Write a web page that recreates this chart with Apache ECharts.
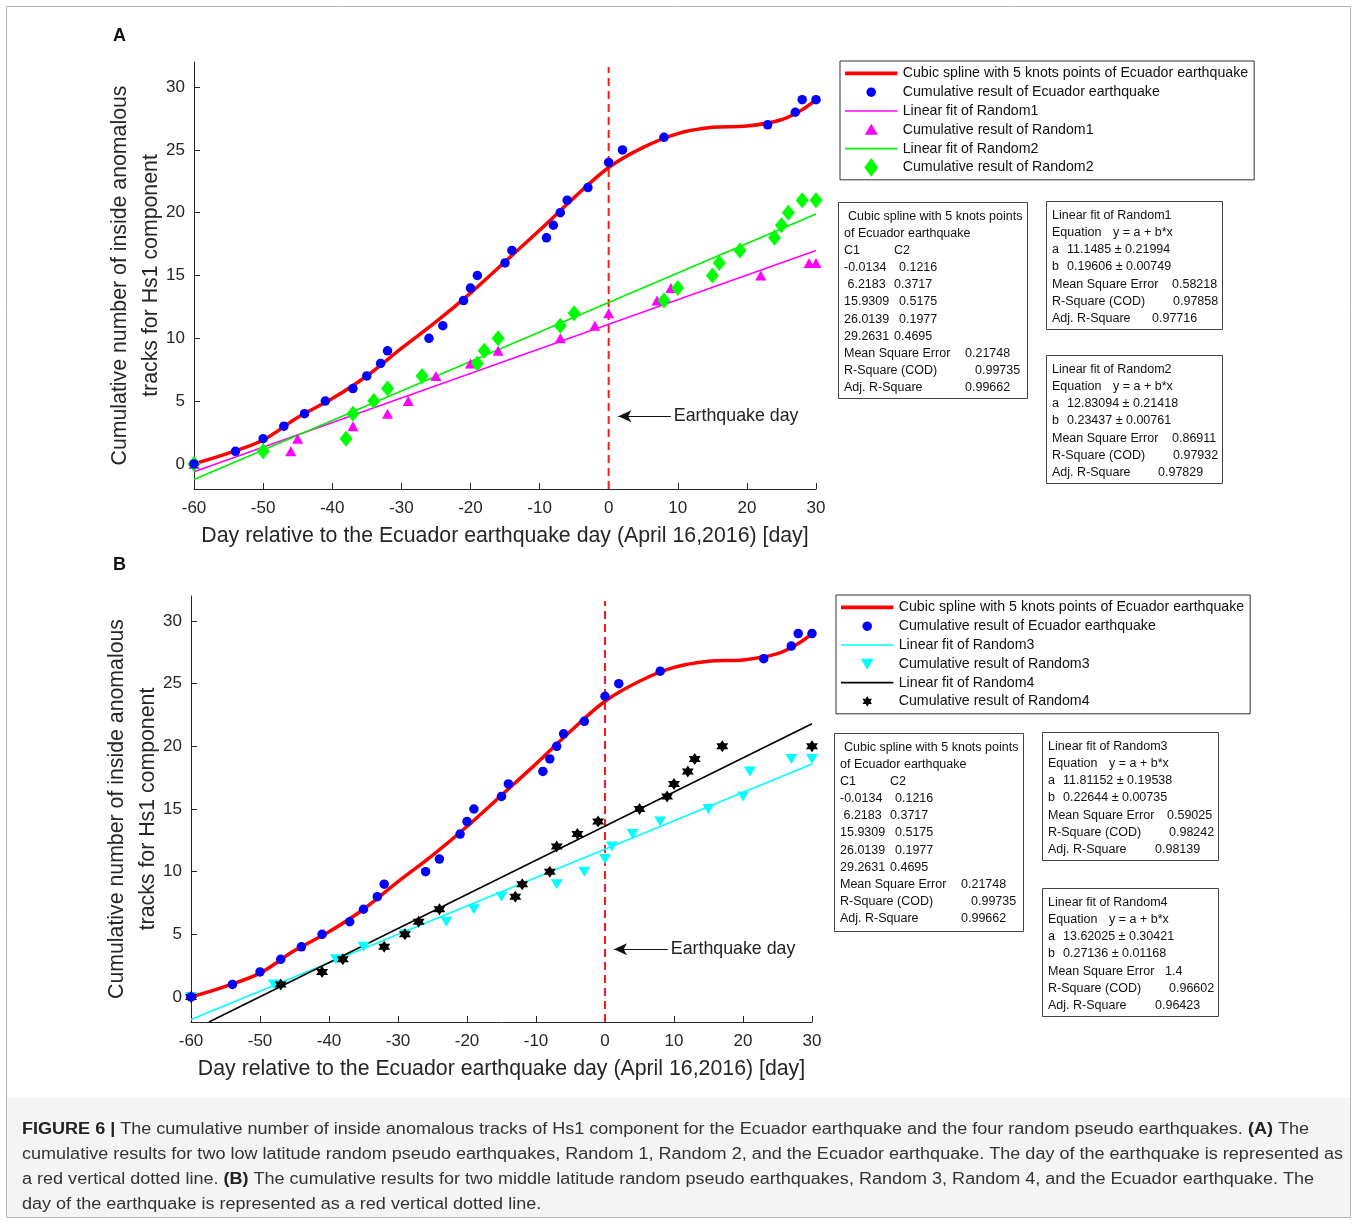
<!DOCTYPE html>
<html>
<head>
<meta charset="utf-8">
<script src="https://cdn.jsdelivr.net/npm/echarts@6/dist/echarts.min.js"></script>
<style>
  html, body { margin: 0; padding: 0; background: #fff; }
  #main { width: 1357px; height: 1224px; }
</style>
</head>
<body>
<div id="main"></div>
<script>
// Ecuador earthquake cumulative result (same in both panels)
const ecuadorDays = [-60, -54, -50, -47, -44, -41, -37, -35, -33, -32, -26, -24, -21, -20, -19, -15, -14, -9, -8, -7, -6, -3, 0, 2, 8, 23, 27, 28, 30];
const ecuadorCounts = [0, 1, 2, 3, 4, 5, 6, 7, 8, 9, 10, 11, 13, 14, 15, 16, 17, 18, 19, 20, 21, 22, 24, 25, 26, 27, 28, 29, 29];

// cubic spline curve
const splineDays = [-60, -55, -50, -45, -40, -35, -30, -25, -20, -15, -10, -5, 0, 5, 10, 15, 20, 25, 28, 30];
const splineValues = [0, 0.85, 1.9, 3.7, 5.2, 7.0, 9.2, 11.3, 13.6, 16.1, 18.6, 21.2, 23.6, 25.2, 26.3, 26.8, 26.9, 27.4, 28.2, 29.0];

// random pseudo earthquakes
const random1Days = [-60, -46, -45, -37, -32, -29, -25, -20, -16, -7, -2, 0, 7, 9, 22, 29, 30];
const random1Counts = [0, 1, 2, 3, 4, 5, 7, 8, 9, 10, 11, 12, 13, 14, 15, 16, 16];
const random2Days = [-60, -50, -38, -37, -34, -32, -27, -19, -18, -16, -7, -5, 8, 10, 15, 16, 19, 24, 25, 26, 28, 30];
const random2Counts = [0, 1, 2, 4, 5, 6, 7, 8, 9, 10, 11, 12, 13, 14, 15, 16, 17, 18, 19, 20, 21, 21];
const random3Days = [-60, -48, -39, -35, -29, -23, -19, -15, -7, -3, 0, 1, 4, 8, 15, 20, 21, 27, 30];
const random3Counts = [0, 1, 3, 4, 5, 6, 7, 8, 9, 10, 11, 12, 13, 14, 15, 16, 18, 19, 19];
const random4Days = [-60, -47, -41, -38, -32, -29, -27, -24, -13, -12, -8, -7, -4, -1, 5, 9, 10, 12, 13, 17, 30];
const random4Counts = [0, 1, 2, 3, 4, 5, 6, 7, 8, 9, 10, 12, 13, 14, 15, 16, 17, 18, 19, 20, 20];

// linear fit end points
const fit1Line = [[-60, -0.62], [30, 17.0]];
const fit2Line = [[-60, -1.25], [30, 19.9]];
const fit3Line = [[-60, -1.8], [30, 18.6]];
const fit4Line = [[-57.4, -2], [30, 21.8]];

const quakeLine = [[0, -2], [0, 31.6]];
const yTicks = [0, 5, 10, 15, 20, 25, 30];

const splineStats = [
  ['-0.0134', '0.1216'], [' 6.2183', '0.3717'], ['15.9309', '0.5175'],
  ['26.0139', '0.1977'], ['29.2631', '0.4695']
];
const splineFitStats = ['0.21748', '0.99735', '0.99662'];
const linearStats = {
  Random1: ['11.1485 ± 0.21994', '0.19606 ± 0.00749', '0.58218', '0.97858', '0.97716'],
  Random2: ['12.83094 ± 0.21418', '0.23437 ± 0.00761', '0.86911', '0.97932', '0.97829'],
  Random3: ['11.81152 ± 0.19538', '0.22644 ± 0.00735', '0.59025', '0.98242', '0.98139'],
  Random4: ['13.62025 ± 0.30421', '0.27136 ± 0.01168', '1.4', '0.96602', '0.96423']
};

const FONT = '"Liberation Sans", Arial, Helvetica, sans-serif';
const AXIS = '#262626';
const SPLINE_NAME = 'Cubic spline with 5 knots points of Ecuador earthquake';
const ECU_NAME = 'Cumulative result of Ecuador earthquake';

function zip(xs, ys) {
  return xs.map((x, i) => [x, ys[i]]);
}

// six pointed star, centred on (cx, cy)
function hexagram(cx, cy, R) {
  const pts = [];
  for (let i = 0; i < 12; i++) {
    const r = i % 2 === 0 ? R : R / Math.sqrt(3);
    const a = -Math.PI / 2 + i * Math.PI / 6;
    pts.push((cx + r * Math.cos(a)).toFixed(2) + ',' + (cy + r * Math.sin(a)).toFixed(2));
  }
  return 'M' + pts.join('L') + 'Z';
}

// legend icons all share a 53x19 / 19x19 frame so marker sizes differ like in the figure
const ICON_BOX = 'path://M0,0M19,19';
const legendIcons = {
  spline: 'path://M0,0M53,19M0,7.6H53V11.4H0Z',
  fit: 'path://M0,0M53,19M0,8.7H53V10.3H0Z',
  circle: ICON_BOX + 'M4.7,9.5A4.8,4.8,0,1,1,14.3,9.5A4.8,4.8,0,1,1,4.7,9.5Z',
  up: ICON_BOX + 'M9.5,3.5L16,14.5L3,14.5Z',
  down: ICON_BOX + 'M3,4.5L16,4.5L9.5,15.5Z',
  diamond: ICON_BOX + 'M9.5,0L16.5,9.5L9.5,19L2.5,9.5Z',
  star: ICON_BOX + hexagram(9.5, 9.5, 5.5)
};

function makeXAxis(gridIndex) {
  return {
    type: 'value', gridIndex, min: -60, max: 30, interval: 10,
    name: 'Day relative to the Ecuador earthquake day (April 16,2016) [day]',
    nameLocation: 'middle', nameGap: 36, nameMoveOverlap: false,
    nameTextStyle: { fontFamily: FONT, fontSize: 21.3, color: AXIS, lineHeight: 22 },
    axisLine: { onZero: false, lineStyle: { color: AXIS, width: 1 } },
    axisTick: { inside: true, length: 6, lineStyle: { color: AXIS } },
    axisLabel: { fontFamily: FONT, fontSize: 17, color: AXIS, margin: 11 },
    splitLine: { show: false }
  };
}

function makeYAxis(gridIndex) {
  return {
    type: 'value', gridIndex, min: -2, max: 32,
    name: 'Cumulative number of inside anomalous\ntracks for Hs1 component',
    nameLocation: 'middle', nameGap: 27, nameMoveOverlap: false,
    nameTextStyle: { fontFamily: FONT, fontSize: 21.3, color: AXIS, lineHeight: 31 },
    axisLine: { onZero: false, lineStyle: { color: AXIS, width: 1 } },
    axisTick: { inside: true, length: 6, customValues: yTicks, lineStyle: { color: AXIS } },
    axisLabel: { fontFamily: FONT, fontSize: 17, color: AXIS, margin: 9, customValues: yTicks },
    splitLine: { show: false }
  };
}

function quakeSeries(i, arrowFrom, arrowTo) {
  return {
    type: 'line', xAxisIndex: i, yAxisIndex: i, data: quakeLine, symbol: 'none', silent: true, z: 1,
    lineStyle: { color: '#ff1a1a', width: 2, type: [8, 5] },
    markLine: {
      silent: true, animation: false, symbolSize: [9, 13],
      lineStyle: { color: '#111', width: 1, type: 'solid' },
      label: { show: true, position: 'end', distance: 3, formatter: 'Earthquake day', fontFamily: FONT, fontSize: 17.8, color: '#222' },
      data: [[{ coord: arrowFrom, symbol: 'arrow' }, { coord: arrowTo, symbol: 'none' }]]
    }
  };
}

function splineSeries(i) {
  return {
    name: SPLINE_NAME, type: 'line', xAxisIndex: i, yAxisIndex: i, z: 3,
    data: zip(splineDays, splineValues), smooth: 0.35, symbol: 'none',
    lineStyle: { color: '#ff0000', width: 3.5 }, itemStyle: { color: '#ff0000' }
  };
}

function ecuadorSeries(i) {
  return {
    name: ECU_NAME, type: 'scatter', xAxisIndex: i, yAxisIndex: i, z: 6,
    data: zip(ecuadorDays, ecuadorCounts), symbol: 'circle', symbolSize: 9.5,
    itemStyle: { color: '#0000ff', opacity: 1 }
  };
}

function fitSeries(i, name, line, color) {
  return {
    name, type: 'line', xAxisIndex: i, yAxisIndex: i, z: 4, data: line, symbol: 'none',
    lineStyle: { color, width: 1.6 }, itemStyle: { color }
  };
}

function pointSeries(i, name, days, counts, color, symbol, size, rotate) {
  return {
    name, type: 'scatter', xAxisIndex: i, yAxisIndex: i, z: 5,
    data: zip(days, counts), symbol, symbolSize: size, symbolRotate: rotate || 0,
    itemStyle: { color, opacity: 1 }
  };
}

function makeLegend(left, top, items) {
  return {
    orient: 'vertical', left, top, padding: [3, 6, 3, 5],
    itemWidth: 53, itemHeight: 18.8, itemGap: 0, selectedMode: false,
    symbolKeepAspect: true, symbolRotate: 0,
    borderColor: '#333', borderWidth: 1, backgroundColor: '#fff',
    textStyle: { fontFamily: FONT, fontSize: 14.2, color: '#111', lineHeight: 18.8 },
    data: items.map(([name, icon]) => ({ name, icon: legendIcons[icon] }))
  };
}

// text boxes next to the plots
const PITCH = 17.1;
function txt(x, y, text) {
  return { type: 'text', x, y, silent: true, style: { text, fontFamily: FONT, fontSize: 12.5, fill: '#111', align: 'left', verticalAlign: 'middle' } };
}
function frame(x, y, w, h) {
  return { type: 'rect', silent: true, shape: { x: x + 0.5, y: y + 0.5, width: w, height: h }, style: { fill: '#fff', stroke: '#444', lineWidth: 1 } };
}
function splineBox(left, top, height) {
  const els = [frame(left, top, 189, height)];
  const c2Offsets = [61, 56, 61, 61, 56];
  let y = top + 14.5;
  els.push(txt(left + 10, y, 'Cubic spline with 5 knots points')); y += PITCH;
  els.push(txt(left + 6, y, 'of Ecuador earthquake')); y += PITCH;
  els.push(txt(left + 6, y, 'C1'), txt(left + 56, y, 'C2')); y += PITCH;
  splineStats.forEach((row, k) => {
    els.push(txt(left + 6, y, row[0]), txt(left + c2Offsets[k], y, row[1]));
    y += PITCH;
  });
  const labels = ['Mean Square Error', 'R-Square (COD)', 'Adj. R-Square'];
  const offs = [127, 137, 127];
  labels.forEach((l, k) => {
    els.push(txt(left + 6, y, l), txt(left + offs[k], y, splineFitStats[k]));
    y += PITCH;
  });
  return els;
}
function linearBox(left, top, key, mseOff, adjOff) {
  const s = linearStats[key];
  const els = [frame(left, top, 176, 128)];
  let y = top + 14.7;
  const x0 = left + 6;
  els.push(txt(x0, y, 'Linear fit of ' + key)); y += PITCH;
  els.push(txt(x0, y, 'Equation'), txt(left + 67, y, 'y = a + b*x')); y += PITCH;
  els.push(txt(x0, y, 'a'), txt(left + 21, y, s[0])); y += PITCH;
  els.push(txt(x0, y, 'b'), txt(left + 21, y, s[1])); y += PITCH;
  els.push(txt(x0, y, 'Mean Square Error'), txt(left + mseOff, y, s[2])); y += PITCH;
  els.push(txt(x0, y, 'R-Square (COD)'), txt(left + 127, y, s[3])); y += PITCH;
  els.push(txt(x0, y, 'Adj. R-Square'), txt(left + adjOff, y, s[4]));
  return els;
}

const captionLines = [
  '{b|FIGURE 6 |} The cumulative number of inside anomalous tracks of Hs1 component for the Ecuador earthquake and the four random pseudo earthquakes. {b|(A)} The',
  'cumulative results for two low latitude random pseudo earthquakes, Random 1, Random 2, and the Ecuador earthquake. The day of the earthquake is represented as',
  'a red vertical dotted line. {b|(B)} The cumulative results for two middle latitude random pseudo earthquakes, Random 3, Random 4, and the Ecuador earthquake. The',
  'day of the earthquake is represented as a red vertical dotted line.'
];

const graphics = [
  { type: 'rect', silent: true, z: -10, shape: { x: 6.5, y: 1097.5, width: 1344, height: 120 }, style: { fill: '#f4f4f4', stroke: null } },
  { type: 'rect', silent: true, z: -9, shape: { x: 6.5, y: 6.5, width: 1344, height: 1211 }, style: { fill: 'none', stroke: '#b5b5b5', lineWidth: 1 } },
  { type: 'text', x: 113, y: 36, silent: true, style: { text: 'A', fontFamily: FONT, fontSize: 18, fontWeight: 'bold', fill: '#111', verticalAlign: 'middle' } },
  { type: 'text', x: 113, y: 565, silent: true, style: { text: 'B', fontFamily: FONT, fontSize: 18, fontWeight: 'bold', fill: '#111', verticalAlign: 'middle' } }
]
  .concat(splineBox(838, 202, 196))
  .concat(linearBox(1046, 201, 'Random1', 126, 106))
  .concat(linearBox(1046, 355, 'Random2', 126, 112))
  .concat(splineBox(834, 733, 198))
  .concat(linearBox(1042, 732, 'Random3', 125, 113))
  .concat(linearBox(1042, 888, 'Random4', 123, 113))
  .concat(captionLines.map((line, k) => ({
    type: 'text', x: 22, y: 1130 + k * 25, scaleX: 1.127, originX: 0, silent: true,
    style: {
      text: line, fontFamily: FONT, fontSize: 16, fill: '#333', verticalAlign: 'middle',
      rich: { b: { fontFamily: FONT, fontSize: 16, fontWeight: 'bold', fill: '#222' } }
    }
  })));

const chart = echarts.init(document.getElementById('main'), null, { renderer: 'canvas' });
const star = 'path://' + hexagram(0, 0, 10);

const option = {
  animation: false,
  backgroundColor: '#fff',
  grid: [
    { left: 194, top: 62, width: 622, height: 427 },
    { left: 191, top: 596, width: 621, height: 426 }
  ],
  xAxis: [makeXAxis(0), makeXAxis(1)],
  yAxis: [makeYAxis(0), makeYAxis(1)],
  legend: [
    makeLegend(840, 61, [
      [SPLINE_NAME, 'spline'], [ECU_NAME, 'circle'],
      ['Linear fit of Random1', 'fit'], ['Cumulative result of Random1', 'up'],
      ['Linear fit of Random2', 'fit'], ['Cumulative result of Random2', 'diamond']
    ]),
    makeLegend(836, 595, [
      [SPLINE_NAME, 'spline'], [ECU_NAME, 'circle'],
      ['Linear fit of Random3', 'fit'], ['Cumulative result of Random3', 'down'],
      ['Linear fit of Random4', 'fit'], ['Cumulative result of Random4', 'star']
    ])
  ],
  graphic: graphics,
  series: [
    quakeSeries(0, [1.4, 3.8], [9, 3.8]),
    splineSeries(0),
    fitSeries(0, 'Linear fit of Random1', fit1Line, '#ff00ff'),
    fitSeries(0, 'Linear fit of Random2', fit2Line, '#00ee00'),
    pointSeries(0, 'Cumulative result of Random1', random1Days, random1Counts, '#ff00ff', 'triangle', [11, 10]),
    pointSeries(0, 'Cumulative result of Random2', random2Days, random2Counts, '#00ff00', 'diamond', [13, 16]),
    ecuadorSeries(0),

    quakeSeries(1, [1.3, 3.8], [9.1, 3.8]),
    splineSeries(1),
    fitSeries(1, 'Linear fit of Random3', fit3Line, '#00ffff'),
    fitSeries(1, 'Linear fit of Random4', fit4Line, '#000000'),
    pointSeries(1, 'Cumulative result of Random3', random3Days, random3Counts, '#00ffff', 'triangle', [12, 10], 180),
    pointSeries(1, 'Cumulative result of Random4', random4Days, random4Counts, '#000000', star, 12),
    ecuadorSeries(1)
  ]
};
chart.setOption(option);
</script>
</body>
</html>
